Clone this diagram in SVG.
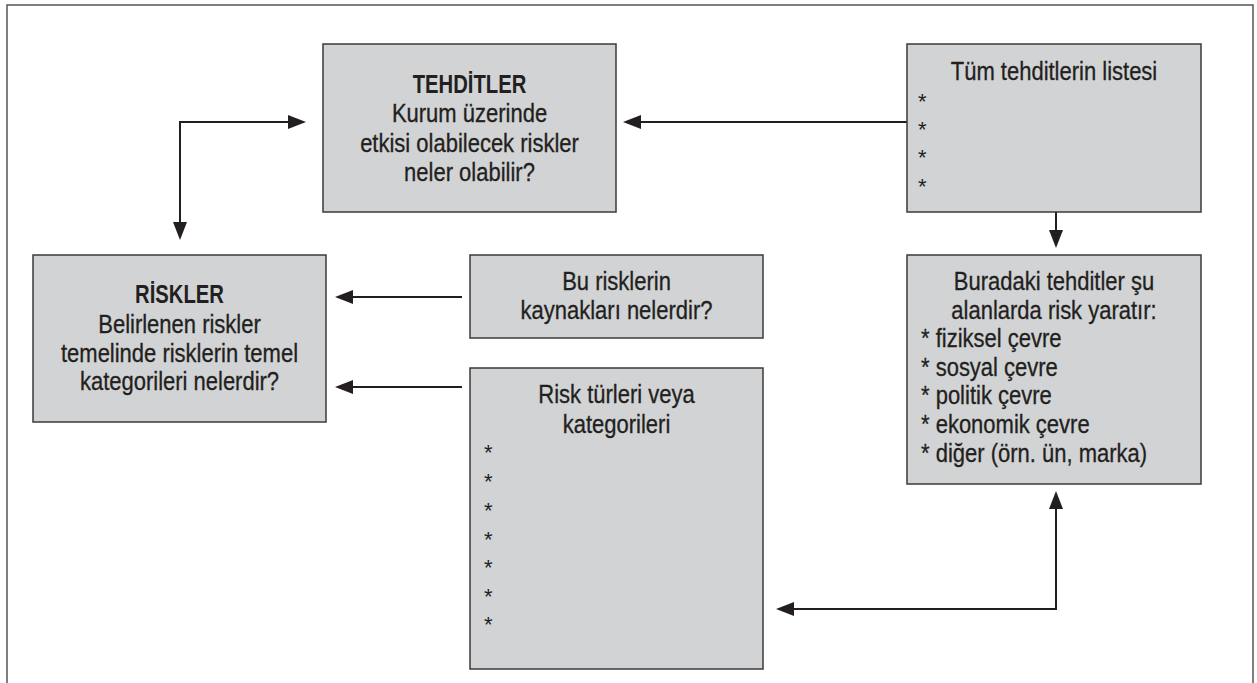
<svg xmlns="http://www.w3.org/2000/svg" width="1257" height="683" viewBox="0 0 1257 683">
  <style>
    .box { fill: #d1d3d4; stroke: #3a3a3a; stroke-width: 1.5; }
    .t { font-family: "Liberation Sans", Arial, Helvetica, sans-serif; font-size: 25px; fill: #231f20; stroke: #231f20; stroke-width: 0.3; }
    .c { text-anchor: middle; }
    .b { font-weight: bold; stroke-width: 0; }
    .star { font-family: "Liberation Sans", Arial, Helvetica, sans-serif; font-size: 22px; fill: #231f20; }
    .link { fill: none; stroke: #231f20; stroke-width: 2; }
  </style>
  <defs>
    <marker id="arrow" markerUnits="userSpaceOnUse" markerWidth="18" markerHeight="14" refX="9" refY="7" orient="auto-start-reverse">
      <path d="M0,0 L18,7 L0,14 z" fill="#231f20"/>
    </marker>
  </defs>

  <rect width="1257" height="683" fill="#ffffff"/>
  <!-- page frame -->
  <path d="M7,700 V5 H1253 V700" fill="none" stroke="#555555" stroke-width="1.5"/>

  <g id="connectors">
    <path class="link" d="M907,122 H632" marker-end="url(#arrow)"/>
    <path class="link" d="M297,122 H180 V231" marker-start="url(#arrow)" marker-end="url(#arrow)"/>
    <path class="link" d="M1056,212 V239" marker-end="url(#arrow)"/>
    <path class="link" d="M462,297 H344" marker-end="url(#arrow)"/>
    <path class="link" d="M462,387 H344" marker-end="url(#arrow)"/>
    <path class="link" d="M785,609 H1056 V500" marker-start="url(#arrow)" marker-end="url(#arrow)"/>
  </g>

  <!-- condensed text: horizontal scale applied per line -->
  <g id="tehditler">
    <rect class="box" x="323" y="44" width="293" height="168"/>
    <text class="t c b" transform="translate(469.5,93) scale(0.81,1)">TEHDİTLER</text>
    <text class="t c" transform="translate(469.5,122) scale(0.88,1)">Kurum üzerinde</text>
    <text class="t c" transform="translate(469.5,152) scale(0.88,1)">etkisi olabilecek riskler</text>
    <text class="t c" transform="translate(469.5,181) scale(0.88,1)">neler olabilir?</text>
  </g>

  <g id="tehdit-listesi">
    <rect class="box" x="907" y="44" width="294" height="168"/>
    <text class="t c" transform="translate(1054,80) scale(0.88,1)">Tüm tehditlerin listesi</text>
    <text class="star" x="918" y="109">*</text>
    <text class="star" x="918" y="137">*</text>
    <text class="star" x="918" y="165">*</text>
    <text class="star" x="918" y="194">*</text>
  </g>

  <g id="riskler">
    <rect class="box" x="33" y="255" width="293" height="167"/>
    <text class="t c b" transform="translate(179.5,303) scale(0.81,1)">RİSKLER</text>
    <text class="t c" transform="translate(179.5,333) scale(0.88,1)">Belirlenen riskler</text>
    <text class="t c" transform="translate(179.5,362) scale(0.88,1)">temelinde risklerin temel</text>
    <text class="t c" transform="translate(179.5,390) scale(0.88,1)">kategorileri nelerdir?</text>
  </g>

  <g id="kaynaklar">
    <rect class="box" x="470" y="255" width="293" height="83"/>
    <text class="t c" transform="translate(616.5,290) scale(0.88,1)">Bu risklerin</text>
    <text class="t c" transform="translate(616.5,319) scale(0.88,1)">kaynakları nelerdir?</text>
  </g>

  <g id="risk-turleri">
    <rect class="box" x="470" y="368" width="293" height="301"/>
    <text class="t c" transform="translate(616.5,403) scale(0.88,1)">Risk türleri veya</text>
    <text class="t c" transform="translate(616.5,433) scale(0.88,1)">kategorileri</text>
    <text class="star" x="484" y="460">*</text>
    <text class="star" x="484" y="489">*</text>
    <text class="star" x="484" y="518">*</text>
    <text class="star" x="484" y="547">*</text>
    <text class="star" x="484" y="575">*</text>
    <text class="star" x="484" y="604">*</text>
    <text class="star" x="484" y="632">*</text>
  </g>

  <g id="risk-alanlari">
    <rect class="box" x="907" y="255" width="294" height="229"/>
    <text class="t c" transform="translate(1054,290) scale(0.88,1)">Buradaki tehditler şu</text>
    <text class="t c" transform="translate(1054,319) scale(0.88,1)">alanlarda risk yaratır:</text>
    <text class="t" transform="translate(921,347) scale(0.88,1)">* fiziksel çevre</text>
    <text class="t" transform="translate(921,376) scale(0.88,1)">* sosyal çevre</text>
    <text class="t" transform="translate(921,404) scale(0.88,1)">* politik çevre</text>
    <text class="t" transform="translate(921,433) scale(0.88,1)">* ekonomik çevre</text>
    <text class="t" transform="translate(921,462) scale(0.88,1)">* diğer (örn. ün, marka)</text>
  </g>
</svg>
